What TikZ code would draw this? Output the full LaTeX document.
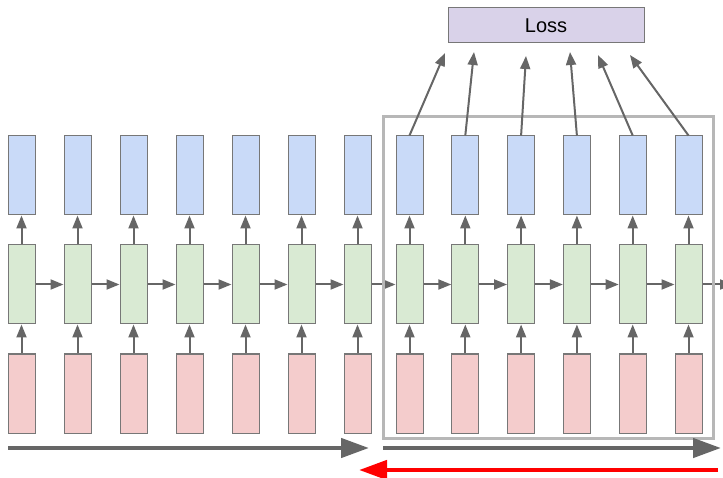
\documentclass[tikz,border=0pt]{standalone}
\usepackage{fontspec}
\setmainfont{Liberation Sans}
\usetikzlibrary{arrows.meta}
\definecolor{bluef}{HTML}{C9DAF8}
\definecolor{greenf}{HTML}{D9EAD3}
\definecolor{pinkf}{HTML}{F4CCCC}
\definecolor{lossf}{HTML}{D9D2E9}
\definecolor{edgec}{HTML}{777777}
\definecolor{arrc}{HTML}{666666}
\definecolor{framec}{HTML}{B7B7B7}
\tikzset{
  cell/.style={draw=edgec, line width=1pt, minimum width=27pt, minimum height=79pt, inner sep=0pt},
  bluecell/.style={cell, fill=bluef},
  greencell/.style={cell, fill=greenf},
  pinkcell/.style={cell, fill=pinkf},
  arr/.style={draw=arrc, line width=2pt, -{Triangle[length=13pt,width=10pt]}},
  bigarr/.style={line width=4.5pt, -{Triangle[length=28pt,width=19pt]}},
}
\begin{document}
\begin{tikzpicture}[x=1pt,y=-1pt]
\useasboundingbox (0,0) rectangle (723,478);
\clip (0,0) rectangle (723,478);
% columns
\foreach \i in {0,...,12}{
  \pgfmathsetmacro{\cx}{\i<7 ? 21.5+56*\i : 409.5+55.8*(\i-7)}
  \node[pinkcell] (p\i) at (\cx,393.5) {};
  \node[greencell] (g\i) at (\cx,284.5) {};
  \node[bluecell] (b\i) at (\cx,175.5) {};
  \draw[arr] (p\i.north) -- (g\i.south);
  \draw[arr] (g\i.north) -- (b\i.south);
}
\foreach \i [evaluate=\i as \j using int(\i+1)] in {0,...,11}{
  \draw[arr] (g\i.east) -- (g\j.west);
}
\coordinate (gout) at (733,284.5);
\draw[arr] (g12.east) -- (gout);
% frame
\node[draw=framec, line width=3pt, minimum width=330pt, minimum height=321pt, inner sep=0pt] (frame) at (548,277.5) {};
% loss
\node[draw=edgec, line width=1pt, fill=lossf, minimum width=196pt, minimum height=35pt, inner sep=0pt, font=\fontsize{20}{24}\selectfont] (loss) at (546,25.5) {Loss};
\coordinate (t7) at (445,53);
\coordinate (t8) at (474,52);
\coordinate (t9) at (526,56);
\coordinate (t10) at (570,52);
\coordinate (t11) at (598,55);
\coordinate (t12) at (630,55);
\foreach \i in {7,...,12}{
  \draw[arr] (b\i.north) -- (t\i);
}
% bottom arrows
\coordinate (a1s) at (8,448);
\coordinate (a1e) at (369,448);
\coordinate (a2s) at (383,448);
\coordinate (a2e) at (721,448);
\coordinate (a3s) at (718,470);
\coordinate (a3e) at (359,470);
\draw[bigarr, draw=arrc, fill=arrc] (a1s) -- (a1e);
\draw[bigarr, draw=arrc, fill=arrc] (a2s) -- (a2e);
\draw[bigarr, draw=red, fill=red] (a3s) -- (a3e);
\end{tikzpicture}
\end{document}
